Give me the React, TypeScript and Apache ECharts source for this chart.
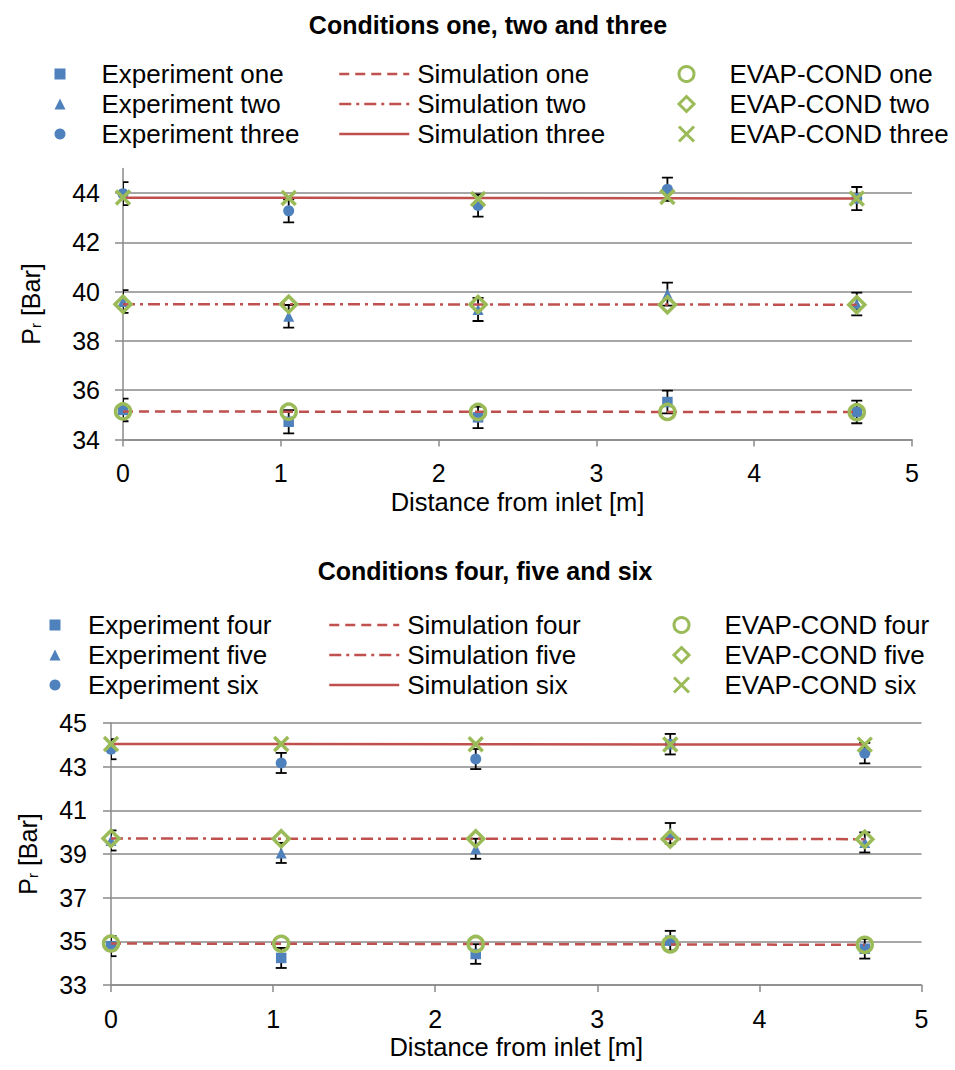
import React, { useEffect, useRef } from "react";
import * as echarts from "echarts";

// ---------- data ----------
const positions = [0, 1.05, 2.25, 3.45, 4.65];

// Chart 1: conditions one, two, three
const expOne = [35.2, 34.72, 34.9, 35.52, 35.12];
const expTwo = [39.6, 39.0, 39.28, 39.9, 39.5];
const expThree = [43.98, 43.28, 43.5, 44.16, 43.78];
const errOne = [0.46, 0.47, 0.44, 0.46, 0.46];
const errTwo = [0.46, 0.46, 0.47, 0.47, 0.46];
const errThree = [0.47, 0.47, 0.45, 0.47, 0.47];
const simOne = [35.14, 35.13, 35.13, 35.12, 35.12];
const simTwo = [39.49, 39.49, 39.48, 39.48, 39.47];
const simThree = [43.81, 43.81, 43.8, 43.79, 43.78];
const evapOne = [35.14, 35.13, 35.12, 35.12, 35.11];
const evapTwo = [39.49, 39.49, 39.48, 39.47, 39.47];
const evapThree = [43.82, 43.8, 43.76, 43.84, 43.78];

// Chart 2: conditions four, five, six
const expFour = [34.78, 34.24, 34.42, 35.03, 34.66];
const expFive = [39.62, 39.05, 39.24, 39.95, 39.53];
const expSix = [43.8, 43.17, 43.35, 44.03, 43.62];
const errFour = [0.46, 0.46, 0.45, 0.45, 0.45];
const errFive = [0.46, 0.46, 0.46, 0.47, 0.46];
const errSix = [0.46, 0.46, 0.46, 0.47, 0.47];
const simFour = [34.9, 34.89, 34.88, 34.86, 34.84];
const simFive = [39.71, 39.7, 39.7, 39.69, 39.68];
const simSix = [44.04, 44.04, 44.03, 44.02, 44.01];
const evapFour = [34.9, 34.89, 34.88, 34.86, 34.84];
const evapFive = [39.71, 39.7, 39.7, 39.69, 39.68];
const evapSix = [44.04, 44.04, 44.03, 44.02, 44.01];

const yTicksTop = [34, 36, 38, 40, 42, 44];
const titles = ["Conditions one, two and three", "Conditions four, five and six"];
const namesTop = {
  exp: ["Experiment one", "Experiment two", "Experiment three"],
  sim: ["Simulation one", "Simulation two", "Simulation three"],
  evap: ["EVAP-COND one", "EVAP-COND two", "EVAP-COND three"],
};
const namesBottom = {
  exp: ["Experiment four", "Experiment five", "Experiment six"],
  sim: ["Simulation four", "Simulation five", "Simulation six"],
  evap: ["EVAP-COND four", "EVAP-COND five", "EVAP-COND six"],
};

// ---------- styles ----------
const FONT = "'Liberation Sans', Arial, sans-serif";
const BLUE = "#4F81BD";
const RED = "#C0504D";
const GREEN = "#9BBB59";
const GRID = "#8a8a8a";
const X_PATH = "path://M0,0L10,10M10,0L0,10";
const dashTypes: any[] = [[10, 6], [12, 5, 3, 5], "solid"];
const expSymbols = ["rect", "triangle", "circle"];
const expSizes = [10.5, 11, 11];
const evapSymbols = ["circle", "diamond", X_PATH];
const evapSizes = [15, 16, 14];

const zip = (ys: number[]) => positions.map((x, i) => [x, ys[i]]);

function buildSeries(idx: number, names: any, exps: number[][], errs: number[][], sims: number[][], evaps: number[][]) {
  const out: any[] = [];
  const errData: number[][] = [];
  exps.forEach((ys, k) => {
    ys.forEach((y, i) => errData.push([positions[i], y - errs[k][i], y + errs[k][i]]));
  });
  out.push({
    type: "custom",
    xAxisIndex: idx,
    yAxisIndex: idx,
    clip: true,
    z: 3,
    encode: { x: 0, y: [1, 2] },
    data: errData,
    renderItem: (params: any, api: any) => {
      const x = api.value(0);
      const lo = api.coord([x, api.value(1)]);
      const hi = api.coord([x, api.value(2)]);
      const hw = 5.5;
      const style = { stroke: "#000", lineWidth: 1.8, fill: "none" };
      return {
        type: "group",
        children: [
          { type: "line", shape: { x1: hi[0], y1: hi[1], x2: lo[0], y2: lo[1] }, style },
          { type: "line", shape: { x1: hi[0] - hw, y1: hi[1], x2: hi[0] + hw, y2: hi[1] }, style },
          { type: "line", shape: { x1: lo[0] - hw, y1: lo[1], x2: lo[0] + hw, y2: lo[1] }, style },
        ],
      };
    },
  });
  exps.forEach((ys, k) => {
    out.push({
      type: "scatter",
      name: names.exp[k],
      xAxisIndex: idx,
      yAxisIndex: idx,
      symbol: expSymbols[k],
      symbolSize: expSizes[k],
      itemStyle: { color: BLUE, opacity: 1 },
      z: 4,
      data: zip(ys),
    });
  });
  sims.forEach((ys, k) => {
    out.push({
      type: "line",
      name: names.sim[k],
      xAxisIndex: idx,
      yAxisIndex: idx,
      symbol: "none",
      showSymbol: false,
      lineStyle: { color: RED, width: 2.5, type: dashTypes[k] },
      itemStyle: { color: RED },
      z: 5,
      data: zip(ys),
    });
  });
  evaps.forEach((ys, k) => {
    out.push({
      type: "scatter",
      name: names.evap[k],
      xAxisIndex: idx,
      yAxisIndex: idx,
      symbol: evapSymbols[k],
      symbolSize: evapSizes[k],
      itemStyle: { color: k === 2 ? GREEN : "rgba(0,0,0,0)", borderColor: GREEN, borderWidth: 3.5, opacity: 1 },
      z: 6,
      data: zip(ys),
    });
  });
  return out;
}

function legends(names: any, rows: number, cols: { exp: number; sim: number; evap: number }, pads: { exp: number; evap: number }) {
  const text = (pad: number) => ({ fontSize: 26, color: "#000", fontFamily: FONT, padding: [0, 0, 0, pad] });
  const common = { orient: "vertical", itemGap: 4, padding: 0, top: rows, selectedMode: false };
  return [
    { ...common, left: cols.exp, itemWidth: 11, itemHeight: 11, data: names.exp, textStyle: text(pads.exp) },
    {
      ...common,
      left: cols.sim,
      itemWidth: 70,
      itemHeight: 14,
      data: names.sim,
      textStyle: text(3),
      itemStyle: { color: "rgba(0,0,0,0)", borderColor: "rgba(0,0,0,0)", borderWidth: 0 },
      lineStyle: { width: 2.5 },
    },
    {
      ...common,
      left: cols.evap,
      itemWidth: 15,
      itemHeight: 15,
      data: names.evap,
      textStyle: text(pads.evap),
      itemStyle: { borderWidth: 3, opacity: 1 },
    },
  ];
}

const axisLine = { show: true, onZero: false, lineStyle: { color: GRID, width: 1.5 } };
const labelStyle = { fontSize: 25, color: "#000", fontFamily: FONT };
const yName = "{p|P}{s|r}{p| [Bar]}";
const yNameStyle = {
  color: "#000",
  fontFamily: FONT,
  rich: {
    p: { fontSize: 25, color: "#000", fontFamily: FONT },
    s: { fontSize: 15, color: "#000", fontFamily: FONT, verticalAlign: "bottom" },
  },
};

function xAxis(idx: number) {
  return {
    type: "value",
    gridIndex: idx,
    min: 0,
    max: 5,
    interval: 1,
    axisLine,
    axisTick: { show: true, length: 7, lineStyle: { color: GRID, width: 1.5 } },
    axisLabel: { ...labelStyle, margin: 21 },
    splitLine: { show: false },
    name: "Distance from inlet [m]",
    nameLocation: "middle",
    nameGap: 49,
    nameTextStyle: { fontSize: 25.5, color: "#000", fontFamily: FONT },
  };
}

export default function App() {
  const ref = useRef<HTMLDivElement>(null);
  useEffect(() => {
    if (!ref.current) return;
    const chart = echarts.init(ref.current, null, { renderer: "svg" });
    const option: any = {
      animation: false,
      backgroundColor: "#fff",
      title: [
        { text: titles[0], left: 483, top: 7, textAlign: "center", textStyle: { fontSize: 25, fontWeight: "bold", color: "#000", fontFamily: FONT } },
        { text: titles[1], left: 480, top: 553, textAlign: "center", textStyle: { fontSize: 25, fontWeight: "bold", color: "#000", fontFamily: FONT } },
      ],
      legend: [
        ...legends(namesTop, 61, { exp: 54.5, sim: 338, evap: 677.5 }, { exp: 31, evap: 30.5 }),
        ...legends(namesBottom, 612, { exp: 49.5, sim: 328, evap: 672.5 }, { exp: 22.5, evap: 30.5 }),
      ],
      grid: [
        { left: 123, top: 168.5, width: 789, height: 271, containLabel: false },
        { left: 111, top: 723, width: 810.5, height: 262, containLabel: false },
      ],
      xAxis: [xAxis(0), xAxis(1)],
      yAxis: [
        {
          type: "value",
          gridIndex: 0,
          min: 34,
          max: 45,
          axisLine,
          axisTick: { show: true, length: 8, customValues: yTicksTop, lineStyle: { color: GRID, width: 1.5 } },
          axisLabel: { ...labelStyle, margin: 23, customValues: yTicksTop },
          splitLine: { show: true, lineStyle: { color: GRID, width: 1.5 } },
          name: yName,
          nameLocation: "middle",
          nameGap: 80,
          nameRotate: 90,
          nameTextStyle: yNameStyle,
        },
        {
          type: "value",
          gridIndex: 1,
          min: 33,
          max: 45,
          interval: 2,
          axisLine,
          axisTick: { show: true, length: 8, lineStyle: { color: GRID, width: 1.5 } },
          axisLabel: { ...labelStyle, margin: 24 },
          splitLine: { show: true, lineStyle: { color: GRID, width: 1.5 } },
          name: yName,
          nameLocation: "middle",
          nameGap: 71,
          nameRotate: 90,
          nameTextStyle: yNameStyle,
        },
      ],
      series: [
        ...buildSeries(0, namesTop, [expOne, expTwo, expThree], [errOne, errTwo, errThree], [simOne, simTwo, simThree], [evapOne, evapTwo, evapThree]),
        ...buildSeries(1, namesBottom, [expFour, expFive, expSix], [errFour, errFive, errSix], [simFour, simFive, simSix], [evapFour, evapFive, evapSix]),
      ],
    };
    chart.setOption(option);
    return () => chart.dispose();
  }, []);
  return <div ref={ref} style={{ position: "absolute", left: 0, top: 0, width: 955, height: 1070 }} />;
}
